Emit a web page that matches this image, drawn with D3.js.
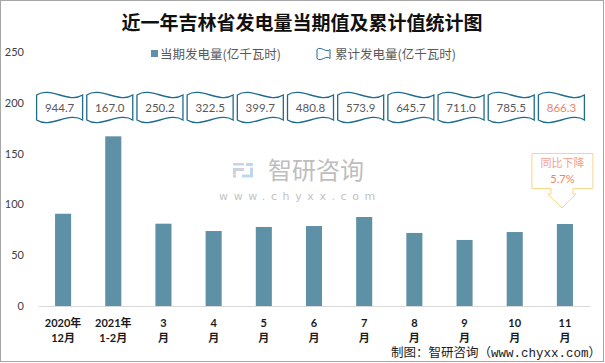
<!DOCTYPE html>
<html>
<head>
<meta charset="utf-8">
<script src="https://cdn.jsdelivr.net/npm/d3@7"></script>
<style>
  body { margin: 0; background: #fff; }
  svg { display: block; }
</style>
</head>
<body>
<script>
const width = 605;
const height = 363;

// data
const monthTop = ["2020年", "2021年", "3", "4", "5", "6", "7", "8", "9", "10", "11"];
const monthBottom = ["12月", "1-2月", "月", "月", "月", "月", "月", "月", "月", "月", "月"];
const currentValues = [90.8, 167.0, 81.0, 73.8, 77.8, 78.7, 87.6, 71.9, 65.0, 72.8, 80.7];
const totalValues = [944.7, 167.0, 250.2, 322.5, 399.7, 480.8, 573.9, 645.7, 711.0, 785.5, 866.3];
const yTicks = [0, 50, 100, 150, 200, 250];

const barColor = "#5e90a6";
const waveColor = "#1f6b8c";
const cjk = "'Noto Sans CJK SC', sans-serif";
const num = "Lato, 'Noto Sans CJK SC', sans-serif";

const svg = d3.select("body")
  .append("svg")
  .attr("width", width)
  .attr("height", height);

svg.append("rect")
  .attr("x", 0.5).attr("y", 0.5)
  .attr("width", width - 2).attr("height", height - 2)
  .attr("fill", "#fff")
  .attr("stroke", "#a6a6a6");

// title
svg.append("text")
  .attr("x", 302).attr("y", 30)
  .attr("text-anchor", "middle")
  .style("font-family", cjk)
  .style("font-weight", "700")
  .style("font-size", "19px")
  .attr("fill", "#111")
  .text("近一年吉林省发电量当期值及累计值统计图");

const idx = d3.range(monthTop.length);

const x = d3.scaleBand()
  .domain(idx)
  .range([38, 590])
  .paddingInner(0.68)
  .paddingOuter(0.34);

const y = d3.scaleLinear()
  .domain([0, 250])
  .range([306, 52]);

// wavy banner shape
let wave = (w, h, a) => {
  return "M0,0 C" + (w * 0.3) + "," + (-a) + " " + (w * 0.7) + "," + a + " " + w + ",0" +
    " L" + w + "," + h +
    " C" + (w * 0.7) + "," + (h - a) + " " + (w * 0.3) + "," + (h + a) + " 0," + h + " Z";
};

// watermark
const wm = svg.append("g").attr("opacity", 0.9);
wm.append("path")
  .attr("d", "M233,163 h11 v2.5 h-11 Z M233,168 h11 v3 h-8 v3 h-3 Z M233,174.5 h3 v3 h-3 Z")
  .attr("fill", "#c5cfdc");
wm.append("path")
  .attr("d", "M246,163 h7 v3 h-7 Z M250,167.5 h3 v10 h-11 v-3 h8 Z")
  .attr("fill", "#b9d3ea");
wm.append("text")
  .attr("x", 316).attr("y", 179)
  .attr("text-anchor", "middle")
  .style("font-family", cjk)
  .style("font-size", "24px")
  .attr("fill", "#b8b8b8")
  .text("智研咨询");
wm.append("text")
  .attr("x", 300).attr("y", 200)
  .attr("text-anchor", "middle")
  .style("font-family", "'DejaVu Sans', sans-serif")
  .style("font-size", "11px")
  .style("letter-spacing", "5.6px")
  .attr("fill", "#bcbcbc")
  .text("www.chyxx.com");

// y axis labels, no line
svg.selectAll(".ytick")
  .data(yTicks)
  .enter()
  .append("text")
  .attr("class", "ytick")
  .attr("x", 24)
  .attr("y", d => y(d) + 4)
  .attr("text-anchor", "end")
  .style("font-family", num)
  .style("font-size", "11px")
  .attr("fill", "#404040")
  .text(d => d);

// bars
svg.selectAll(".bar")
  .data(currentValues)
  .enter()
  .append("rect")
  .attr("class", "bar")
  .attr("x", (d, i) => x(i))
  .attr("y", d => y(d))
  .attr("width", x.bandwidth())
  .attr("height", d => y(0) - y(d))
  .attr("fill", barColor);

// x axis
const xAxis = d3.axisBottom(x).tickSize(0).tickFormat("");
const gx = svg.append("g")
  .attr("transform", "translate(0," + y(0) + ")")
  .call(xAxis);
gx.select(".domain").attr("stroke", "#d9d9d9").attr("stroke-width", 1.2);

const xl = svg.selectAll(".xlab")
  .data(idx)
  .enter()
  .append("text")
  .attr("class", "xlab")
  .attr("text-anchor", "middle")
  .style("font-family", num)
  .style("font-weight", "700")
  .style("font-size", "11px")
  .attr("fill", "#1a1a1a");
xl.append("tspan")
  .attr("x", i => x(i) + x.bandwidth() / 2)
  .attr("y", 327)
  .text(i => monthTop[i]);
xl.append("tspan")
  .attr("x", i => x(i) + x.bandwidth() / 2)
  .attr("y", 342)
  .text(i => monthBottom[i]);

// cumulative banners
const bw = 46, bh = 25;
const banners = svg.selectAll(".banner")
  .data(totalValues)
  .enter()
  .append("g")
  .attr("class", "banner")
  .attr("transform", (d, i) => "translate(" + (x(i) + x.bandwidth() / 2 - 3.5 - bw / 2) + ",95)");
banners.append("path")
  .attr("d", wave(bw, bh, 9))
  .attr("fill", "#fff")
  .attr("stroke", waveColor)
  .attr("stroke-width", 1.3);
banners.append("text")
  .attr("x", bw / 2)
  .attr("y", bh / 2 + 4)
  .attr("text-anchor", "middle")
  .style("font-family", num)
  .style("font-size", "11.5px")
  .attr("fill", (d, i) => i === totalValues.length - 1 ? "#f0826a" : "#595959")
  .text(d => d3.format(".1f")(d));

// legend
svg.append("rect")
  .attr("x", 151).attr("y", 50)
  .attr("width", 7).attr("height", 7)
  .attr("fill", barColor);
svg.append("text")
  .attr("x", 160).attr("y", 58.5)
  .style("font-family", cjk)
  .style("font-size", "12.5px")
  .attr("fill", "#595959")
  .text("当期发电量(亿千瓦时)");
svg.append("path")
  .attr("transform", "translate(317,49.5)")
  .attr("d", wave(13, 9, 4))
  .attr("fill", "#fff")
  .attr("stroke", waveColor)
  .attr("stroke-width", 1);
svg.append("text")
  .attr("x", 335).attr("y", 58.5)
  .style("font-family", cjk)
  .style("font-size", "12.5px")
  .attr("fill", "#595959")
  .text("累计发电量(亿千瓦时)");

// callout
const last = totalValues.length - 1;
const cx = x(last) + x.bandwidth() / 2 - 3;
svg.append("path")
  .attr("d", "M" + (cx - 30) + ",153.5 H" + (cx + 31) + " V188.5 H" + (cx + 11) + " V194 H" + (cx + 14) +
    " L" + cx + ",208 L" + (cx - 14) + ",194 H" + (cx - 11) + " V188.5 H" + (cx - 30) + " Z")
  .attr("fill", "#fff")
  .attr("stroke", "#f7d58e")
  .attr("stroke-width", 1);
svg.append("text")
  .attr("x", cx + 0.5).attr("y", 167)
  .attr("text-anchor", "middle")
  .style("font-family", cjk)
  .style("font-size", "11px")
  .attr("fill", "#f4a08c")
  .text("同比下降");
svg.append("text")
  .attr("x", cx + 0.5).attr("y", 183)
  .attr("text-anchor", "middle")
  .style("font-family", num)
  .style("font-size", "11px")
  .attr("fill", "#f0826a")
  .text("5.7%");

// footer
svg.append("text")
  .attr("x", 601).attr("y", 357)
  .attr("text-anchor", "end")
  .style("font-family", "'Liberation Mono', 'Noto Sans CJK SC', monospace")
  .style("font-size", "12.5px")
  .attr("fill", "#1a1a1a")
  .text("制图：智研咨询（www.chyxx.com）");
</script>
</body>
</html>
